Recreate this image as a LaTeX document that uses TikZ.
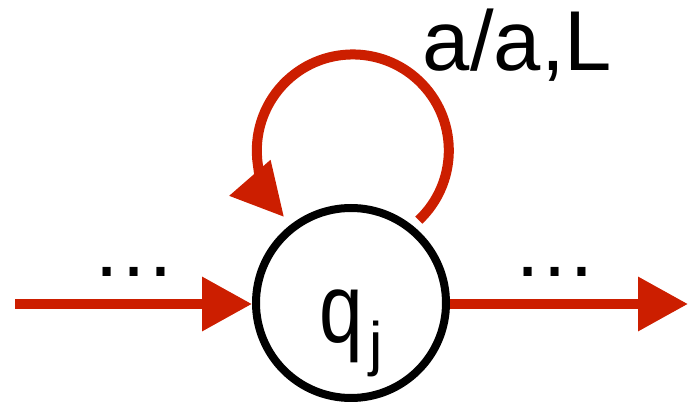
\documentclass[tikz,border=0pt]{standalone}
\usepackage{fontspec}
\setmainfont{Liberation Sans}
\usepackage{graphicx}
\usetikzlibrary{arrows.meta,calc}
\definecolor{arrred}{RGB}{204,30,0}
\begin{document}
\begin{tikzpicture}[x=1pt,y=1pt,
  statebox/.style={circle,draw=black,line width=8pt,minimum size=190pt,inner sep=0pt},
  redarrow/.style={draw=arrred,line width=10pt,-{Triangle[length=50pt,width=52pt]}},
  loopline/.style={draw=arrred,line width=10pt,-{Triangle[length=52pt,width=52pt]}},
  bigtext/.style={inner sep=0pt,font=\fontsize{85}{85}\selectfont}]
\useasboundingbox (0,0) rectangle (689,407);
\node (q) [statebox] at (351,104) {};
\coordinate (in) at (15,103);
\coordinate (out) at (688,103);
\draw[redarrow] (in) -- (in -| q.west);
\draw[redarrow] (out -| q.east) -- (out);
\coordinate (ls) at ($(q.center)+(50.7:107pt)$);
\coordinate (lt) at ($(q.center)+(127.9:109pt)$);
\draw[loopline] (ls) arc[start angle=-46.6,end angle=185,radius=96pt]
   .. controls +(0.087*15,-0.996*15) and ($(lt)+(-19.7,22.6)$) .. (lt);
\node (lab) [bigtext,anchor=base] at (517.5,336) {a/a,L};
\node (dl) [bigtext,anchor=base] at (133.5,130) {…};
\node (dr) [bigtext,anchor=base] at (555,130) {…};
\node (qlab) [anchor=base west,inner sep=0pt] at (319,64)
  {\fontsize{98}{98}\selectfont\scalebox{0.8}[1]{q}\hspace{7pt}\raisebox{-22pt}{\fontsize{60}{60}\selectfont j}};
\end{tikzpicture}
\end{document}
